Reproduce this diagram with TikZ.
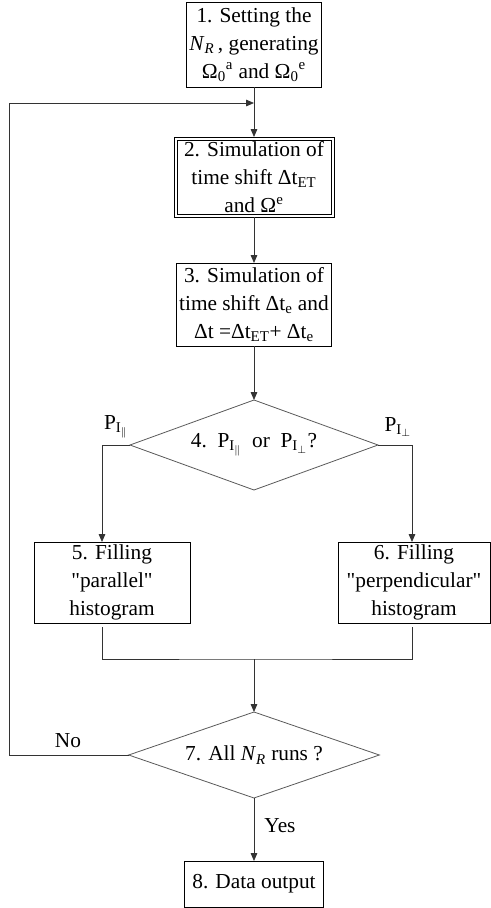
\documentclass[tikz,border=0pt]{standalone}
\usepackage{fontspec}
\setmainfont{Liberation Serif}
\usetikzlibrary{shapes,arrows.meta,positioning,calc}

\begin{document}
\begin{tikzpicture}[x=0.75pt, y=-0.75pt, font=\fontsize{16}{21}\selectfont]
    % Define styles
    \tikzstyle{stepbox}=[rectangle,draw=black,line width=0.6pt,align=center,inner sep=2pt,outer sep=0pt]
    \tikzstyle{decision}=[diamond,draw=black!65,line width=0.6pt,align=center,inner sep=0pt,outer sep=0pt,shape aspect=2.8]
    \tikzstyle{line}=[draw=black!80, line width=0.6pt, -{Triangle[length=6pt,width=5pt]}]
    \tikzstyle{plain}=[draw=black!80, line width=0.6pt]

    \useasboundingbox (0,0) rectangle (491,908);

    % Main column
    \node [stepbox, minimum width=101pt, minimum height=63.75pt] (setup) at (254,44.5) {1. Setting the\\ \textit{N}\textsubscript{\textit{R}}\,, generating\\ Ω\textsubscript{0}\textsuperscript{a} and Ω\textsubscript{0}\textsuperscript{e}};
    \node [stepbox, minimum width=120pt, minimum height=60pt, below=37.5pt of setup] (shiftet) {2. Simulation of\\ time shift Δt\textsubscript{ET}\\ and Ω\textsuperscript{e}};
    \node [stepbox, minimum width=116pt, minimum height=62.25pt, below=34.5pt of shiftet] (shifte) {3. Simulation of\\ time shift Δt\textsubscript{e} and\\ Δt =Δt\textsubscript{ET}+ Δt\textsubscript{e}};
    \node [decision, minimum width=186pt, minimum height=67.5pt, below=40.5pt of shifte] (choice) {4.~~P\textsubscript{I\textsubscript{$\parallel$}}~~or~~P\textsubscript{I\textsubscript{$\perp$}}?};

    % Histograms
    \node [stepbox, minimum width=117pt, minimum height=60.75pt] (histpar) at (112,582.5) {5. Filling\\ \textquotedbl parallel\textquotedbl\\ histogram};
    \node [stepbox, minimum width=114pt, minimum height=60.75pt] (histperp) at (414,582.5) {6. Filling\\ \textquotedbl perpendicular\textquotedbl\\ histogram};

    % Loop test and output
    \node [decision, minimum width=188pt, minimum height=64.5pt, below=166.5pt of choice] (allruns) {7. All \textit{N}\textsubscript{\textit{R}} runs ?};
    \node [stepbox, minimum width=104pt, minimum height=34.5pt, below=47.25pt of allruns] (output) {8. Data output};

    % Inner frame of box 2
    \draw [line width=0.6pt] ($(shiftet.north west)+(3,3)$) rectangle ($(shiftet.south east)+(-3,-3)$);

    % Helper coordinates
    \coordinate (parx) at (102,600);
    \coordinate (perpx) at (412,600);
    \coordinate (merge) at ($(allruns.north)+(0,-53)$);
    \coordinate (backcorner) at (9,103);

    % Labels
    \node (parlbl) at (116,427) {P\textsubscript{I\textsubscript{$\parallel$}}};
    \node (perplbl) at (398,427) {P\textsubscript{I\textsubscript{$\perp$}}};
    \node (nolbl) at (68,741) {No};
    \node (yeslbl) at (280,826) {Yes};

    % Define connections
    \path [line] (setup) -- (shiftet);
    \path [line] (shiftet) -- (shifte);
    \path [line] (shifte) -- (choice);
    \path [line] (choice.west) -| (parx |- histpar.north);
    \path [line] (choice.east) -| (perpx |- histperp.north);
    \path [plain] ($(parx |- histpar.south)+(0,4)$) |- (merge) -| ($(perpx |- histperp.south)+(0,4)$);
    \path [line] (merge) -- (allruns.north);
    \path [line] (allruns) -- (output);
    \path [line] (allruns.west) -| (backcorner) -- (setup.south |- backcorner);
\end{tikzpicture}
\end{document}
